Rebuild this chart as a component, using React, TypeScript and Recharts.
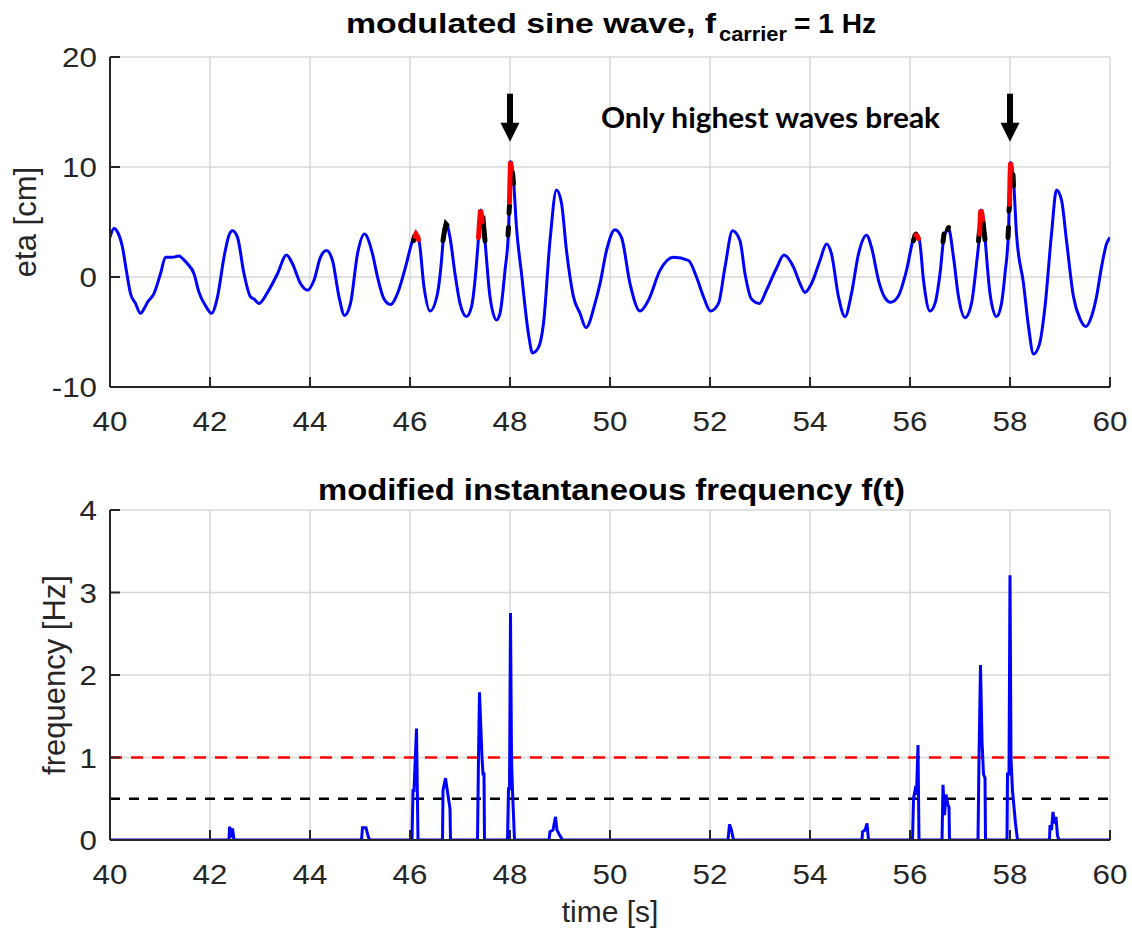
import React from 'react';
import { LineChart, Line, XAxis, YAxis, CartesianGrid, ReferenceLine, ReferenceDot } from 'recharts';

// ---------- data ----------
const xTicks = [40, 42, 44, 46, 48, 50, 52, 54, 56, 58, 60];
const etaTicks = [-10, 0, 10, 20];
const freqTicks = [0, 1, 2, 3, 4];

// surface elevation eta [cm] vs time [s]
const etaSeries: [number, number][] = [
  [40.0, 3.6], [40.08, 4.4], [40.16, 4.0], [40.25, 2.7], [40.33, 0.5], [40.41, -1.5], [40.51, -2.4], [40.61, -3.3],
  [40.68, -2.9], [40.75, -2.3], [40.88, -1.5], [41.01, 0.3], [41.11, 1.8], [41.25, 1.8], [41.38, 1.9], [41.47, 1.6],
  [41.55, 1.2], [41.68, 0.3], [41.78, -1.4], [41.91, -2.6], [42.03, -3.3], [42.15, -1.8], [42.28, 1.8], [42.38, 3.8],
  [42.45, 4.2], [42.55, 3.6], [42.68, 0.3], [42.81, -1.8], [42.88, -2.0], [42.98, -2.4], [43.15, -1.4], [43.35, 0.3],
  [43.53, 2.0], [43.65, 1.2], [43.81, -0.6], [43.95, -1.2], [44.08, -0.3], [44.21, 1.8], [44.33, 2.4], [44.45, 1.5],
  [44.58, -1.8], [44.69, -3.5], [44.81, -2.4], [44.95, 2.1], [45.09, 3.9], [45.25, 2.1], [45.35, 0.0], [45.48, -2.0],
  [45.61, -2.5], [45.75, -1.5], [45.91, 0.9], [46.05, 3.3], [46.11, 3.9], [46.18, 3.3], [46.28, -0.9], [46.4, -3.1],
  [46.55, -1.5], [46.62, 1.0], [46.67, 3.6], [46.73, 4.8], [46.8, 3.6], [46.9, 0.3], [47.0, -2.4], [47.13, -3.6],
  [47.23, -2.7], [47.3, -0.3], [47.37, 3.6], [47.41, 6.1], [47.47, 4.8], [47.5, 3.3], [47.6, -1.8], [47.73, -3.9],
  [47.8, -3.3], [47.9, 0.6], [47.97, 4.2], [48.01, 10.5], [48.07, 8.8], [48.13, 4.5], [48.23, 0.3], [48.37, -5.2],
  [48.45, -6.9], [48.57, -6.4], [48.67, -4.2], [48.8, 3.3], [48.93, 7.9], [49.03, 6.7], [49.13, 2.4], [49.27, -1.8],
  [49.4, -3.3], [49.52, -4.6], [49.7, -2.4], [49.8, -0.6], [49.93, 2.4], [50.1, 4.3], [50.23, 3.6], [50.4, -0.6],
  [50.6, -3.1], [50.77, -2.1], [51.0, 0.6], [51.27, 1.8], [51.57, 1.5], [51.73, 0.0], [51.87, -1.8], [52.01, -3.1],
  [52.17, -2.4], [52.3, 0.9], [52.45, 4.2], [52.6, 3.3], [52.7, 0.3], [52.83, -2.0], [52.99, -2.4], [53.13, -1.2],
  [53.33, 0.8], [53.48, 2.0], [53.67, 0.9], [53.8, -0.6], [53.9, -1.4], [54.03, -0.6], [54.2, 1.5], [54.33, 3.0],
  [54.43, 2.1], [54.57, -1.8], [54.7, -3.6], [54.83, -1.5], [54.97, 2.1], [55.13, 3.8], [55.23, 2.7], [55.37, -0.3],
  [55.5, -1.9], [55.61, -2.3], [55.77, -1.7], [55.93, 0.6], [56.08, 3.6], [56.13, 3.8], [56.19, 3.3], [56.27, -0.3],
  [56.4, -3.1], [56.5, -2.4], [56.6, 0.3], [56.68, 3.6], [56.77, 4.4], [56.87, 1.8], [56.97, -1.8], [57.1, -3.7],
  [57.23, -2.4], [57.33, 1.2], [57.39, 3.9], [57.42, 6.1], [57.47, 5.2], [57.5, 3.6], [57.6, -1.5], [57.73, -3.6],
  [57.83, -2.4], [57.9, 0.3], [57.97, 4.2], [58.01, 10.4], [58.07, 8.8], [58.13, 3.9], [58.27, -0.6], [58.37, -4.5],
  [58.47, -7.0], [58.59, -6.1], [58.7, -2.7], [58.83, 3.9], [58.93, 7.9], [59.03, 7.0], [59.13, 3.3], [59.27, -1.8],
  [59.4, -3.8], [59.52, -4.5], [59.63, -3.6], [59.73, -1.8], [59.83, 0.9], [59.93, 3.0], [60.0, 3.6],
];

// breaking crests (red) and detected wave tops (black)
const redSegments: [number, number][][] = [
  [[46.1, 3.7], [46.12, 3.9], [46.15, 3.7], [46.17, 3.4]],
  [[47.37, 3.6], [47.39, 5.0], [47.41, 6.1], [47.43, 5.6], [47.44, 5.0]],
  [[47.99, 6.8], [48.0, 9.0], [48.01, 10.5], [48.03, 9.8]],
  [[56.12, 3.8], [56.15, 3.7], [56.17, 3.5]],
  [[57.39, 3.9], [57.41, 5.8], [57.42, 6.1], [57.44, 5.7], [57.45, 5.2]],
  [[57.99, 6.6], [58.0, 9.0], [58.01, 10.4], [58.03, 9.8]],
];
const blackSegments: [number, number][][] = [
  [[46.07, 3.3], [46.09, 3.7]],
  [[46.66, 3.3], [46.69, 4.2], [46.72, 4.8], [46.74, 4.7]],
  [[47.45, 4.6], [47.47, 4.8], [47.49, 3.8], [47.5, 3.3]],
  [[47.96, 3.8], [47.97, 4.5]],
  [[47.98, 5.8], [47.99, 6.5]],
  [[48.05, 9.5], [48.07, 8.5]],
  [[56.07, 3.3], [56.1, 3.8], [56.12, 3.9]],
  [[56.66, 3.2], [56.68, 3.9]],
  [[56.75, 4.3], [56.77, 4.5]],
  [[57.37, 3.3], [57.39, 4.2]],
  [[57.46, 5.0], [57.48, 4.2], [57.5, 3.4]],
  [[57.96, 3.6], [57.97, 4.5]],
  [[57.98, 6.0], [57.99, 6.5]],
  [[58.06, 9.3], [58.07, 8.3]],
];

// modified instantaneous frequency f(t) [Hz]
const freqSeries: [number, number][] = [
  [40, 0], [42.38, 0], [42.39, 0.16], [42.41, 0.12], [42.43, 0.03], [42.45, 0.14], [42.48, 0],
  [45.03, 0], [45.05, 0.15], [45.12, 0.15], [45.16, 0.05], [45.19, 0],
  [46.04, 0], [46.06, 0.6], [46.08, 0.6], [46.13, 1.35], [46.16, 0],
  [46.65, 0], [46.66, 0.6], [46.71, 0.75], [46.77, 0.5], [46.8, 0.38], [46.81, 0],
  [47.35, 0], [47.37, 1.0], [47.39, 1.79], [47.44, 1.0], [47.46, 0.8], [47.48, 0.8], [47.49, 0],
  [47.95, 0], [47.97, 0.62], [47.99, 0.62], [48.01, 2.75], [48.03, 1.0], [48.05, 0.6], [48.07, 0.3], [48.09, 0],
  [48.78, 0], [48.8, 0.1], [48.86, 0.12], [48.91, 0.28], [48.94, 0.12], [49.0, 0.05], [49.05, 0],
  [52.36, 0], [52.39, 0.19], [52.43, 0.12], [52.47, 0],
  [55.04, 0], [55.05, 0.1], [55.1, 0.12], [55.14, 0.2], [55.17, 0],
  [56.05, 0], [56.07, 0.5], [56.1, 0.6], [56.13, 0.55], [56.16, 1.15], [56.18, 0],
  [56.64, 0], [56.66, 0.67], [56.69, 0.3], [56.72, 0.55], [56.76, 0.42], [56.78, 0.4], [56.79, 0],
  [57.36, 0], [57.38, 1.0], [57.41, 2.12], [57.44, 1.2], [57.47, 0.8], [57.5, 0.75], [57.51, 0],
  [57.94, 0], [57.95, 0.8], [57.98, 0.8], [58.0, 3.21], [58.02, 1.0], [58.05, 0.6], [58.08, 0.4], [58.11, 0.2], [58.15, 0],
  [58.79, 0], [58.8, 0.18], [58.83, 0.12], [58.86, 0.34], [58.89, 0.2], [58.92, 0.28], [58.95, 0.05], [58.98, 0],
  [60, 0],
];

const redThreshold = 1;
const blackThreshold = 0.5;
const arrowTimes = [48, 58];
const arrowTipEta = 12.3;

// ---------- styles ----------
const FONT = '"Liberation Sans", Arial, Helvetica, sans-serif';
const AX = '#262626';
const GRID = '#d9d9d9';
const BLUE = '#0000ff';

const toPts = (pairs: [number, number][]) => pairs.map(([t, v]) => ({ t, v }));
const etaData = toPts(etaSeries);
const freqData = toPts(freqSeries);

const XTick = (p: any) => (
  <g transform={`translate(${p.x},${p.y})`}>
    <text transform="scale(1.12,1)" textAnchor="middle" dy="0.72em" fontSize={28} fill={AX} fontFamily={FONT}>
      {p.payload.value}
    </text>
  </g>
);
const YTick = (p: any) => (
  <g transform={`translate(${p.x},${p.y})`}>
    <text transform="scale(1.12,1)" textAnchor="end" dy="0.36em" fontSize={28} fill={AX} fontFamily={FONT}>
      {p.payload.value}
    </text>
  </g>
);
const NoTick = () => <g />;

const Arrow = ({ cx, cy }: { cx: number; cy: number }) => (
  <g>
    <rect x={cx - 3} y={cy - 48} width={6} height={30} fill="#000" />
    <polygon points={`${cx - 9.5},${cy - 19} ${cx + 9.5},${cy - 19} ${cx},${cy}`} fill="#000" />
  </g>
);

const axisLine = { stroke: AX, strokeWidth: 2 };
const tickLine = { stroke: AX, strokeWidth: 2 };

export default function App() {
  return (
    <div style={{ position: 'absolute', left: 0, top: 0, width: 1132, height: 936, background: '#fff' }}>
      <div style={{ position: 'absolute', left: 0, top: 0 }}>
        <LineChart width={1132} height={460} margin={{ top: 57, right: 22, bottom: 13, left: 10 }}>
          <CartesianGrid stroke={GRID} strokeWidth={1.5} />
          <XAxis dataKey="t" type="number" domain={[40, 60]} ticks={xTicks} interval={0} height={60}
            tickSize={-10} tickMargin={34} tick={XTick} axisLine={axisLine} tickLine={tickLine} allowDataOverflow />
          <XAxis xAxisId="top" dataKey="t" orientation="top" type="number" domain={[40, 60]} ticks={xTicks} interval={0}
            height={0} tickSize={-10} tick={NoTick} axisLine={axisLine} tickLine={tickLine} allowDataOverflow />
          <YAxis type="number" domain={[-10, 20]} ticks={etaTicks} interval={0} width={100}
            tickSize={-10} tickMargin={23} tick={YTick} axisLine={axisLine} tickLine={tickLine} allowDataOverflow />
          <YAxis yAxisId="right" orientation="right" type="number" domain={[-10, 20]} ticks={etaTicks} interval={0} width={0}
            tickSize={-10} tick={NoTick} axisLine={axisLine} tickLine={tickLine} allowDataOverflow />
          <Line data={etaData} dataKey="v" type="monotone" stroke={BLUE} strokeWidth={3} dot={false}
            isAnimationActive={false} />
          {blackSegments.map((seg, i) => (
            <Line key={`b${i}`} data={toPts(seg)} dataKey="v" type="linear" stroke="#000" strokeWidth={5}
              strokeLinecap="round" dot={false} isAnimationActive={false} />
          ))}
          {redSegments.map((seg, i) => (
            <Line key={`r${i}`} data={toPts(seg)} dataKey="v" type="linear" stroke="#ff0000" strokeWidth={5}
              strokeLinecap="round" dot={false} isAnimationActive={false} />
          ))}
          {arrowTimes.map((t) => (
            <ReferenceDot key={`a${t}`} x={t} y={arrowTipEta} r={0}
              shape={(p: any) => <Arrow cx={p.cx} cy={p.cy} />} />
          ))}
        </LineChart>
      </div>
      <div style={{ position: 'absolute', left: 0, top: 460 }}>
        <LineChart width={1132} height={476} margin={{ top: 50, right: 22, bottom: 36, left: 10 }}>
          <CartesianGrid stroke={GRID} strokeWidth={1.5} />
          <XAxis dataKey="t" type="number" domain={[40, 60]} ticks={xTicks} interval={0} height={60}
            tickSize={-10} tickMargin={34} tick={XTick} axisLine={axisLine} tickLine={tickLine} allowDataOverflow />
          <XAxis xAxisId="top" dataKey="t" orientation="top" type="number" domain={[40, 60]} ticks={xTicks} interval={0}
            height={0} tickSize={-10} tick={NoTick} axisLine={axisLine} tickLine={tickLine} allowDataOverflow />
          <YAxis type="number" domain={[0, 4]} ticks={freqTicks} interval={0} width={100}
            tickSize={-10} tickMargin={23} tick={YTick} axisLine={axisLine} tickLine={tickLine} allowDataOverflow />
          <YAxis yAxisId="right" orientation="right" type="number" domain={[0, 4]} ticks={freqTicks} interval={0} width={0}
            tickSize={-10} tick={NoTick} axisLine={axisLine} tickLine={tickLine} allowDataOverflow />
          <ReferenceLine y={redThreshold} stroke="#ff0000" strokeWidth={2.5} strokeDasharray="12 9" />
          <ReferenceLine y={blackThreshold} stroke="#000" strokeWidth={2.5} strokeDasharray="10 9" />
          <Line data={freqData} dataKey="v" type="linear" stroke={BLUE} strokeWidth={3} dot={false}
            isAnimationActive={false} />
        </LineChart>
      </div>
      <svg width={1132} height={936} style={{ position: 'absolute', left: 0, top: 0, pointerEvents: 'none' }}>
        <g fontFamily={FONT} fontWeight="bold" fill="#000">
          <text x={346} y={33} fontSize={28} textLength={370} lengthAdjust="spacingAndGlyphs">modulated sine wave, f</text>
          <text x={719} y={41} fontSize={20} textLength={68} lengthAdjust="spacingAndGlyphs">carrier</text>
          <text x={794} y={33} fontSize={28} textLength={82} lengthAdjust="spacingAndGlyphs">= 1 Hz</text>
          <text x={318} y={500} fontSize={29} textLength={587} lengthAdjust="spacingAndGlyphs">modified instantaneous frequency f(t)</text>
        </g>
        <text x={601} y={128} fontSize={28} fontWeight="bold" fontFamily="Lato, 'Open Sans', sans-serif" fill="#000"
          textLength={339} lengthAdjust="spacingAndGlyphs">Only highest waves break</text>
        <g fontFamily={FONT} fill={AX} fontSize={31}>
          <text transform="translate(36,222) rotate(-90)" textAnchor="middle">eta [cm]</text>
          <text transform="translate(65,675) rotate(-90)" textAnchor="middle">frequency [Hz]</text>
          <text x={610} y={922} textAnchor="middle" fontSize={30}>time [s]</text>
        </g>
      </svg>
    </div>
  );
}
